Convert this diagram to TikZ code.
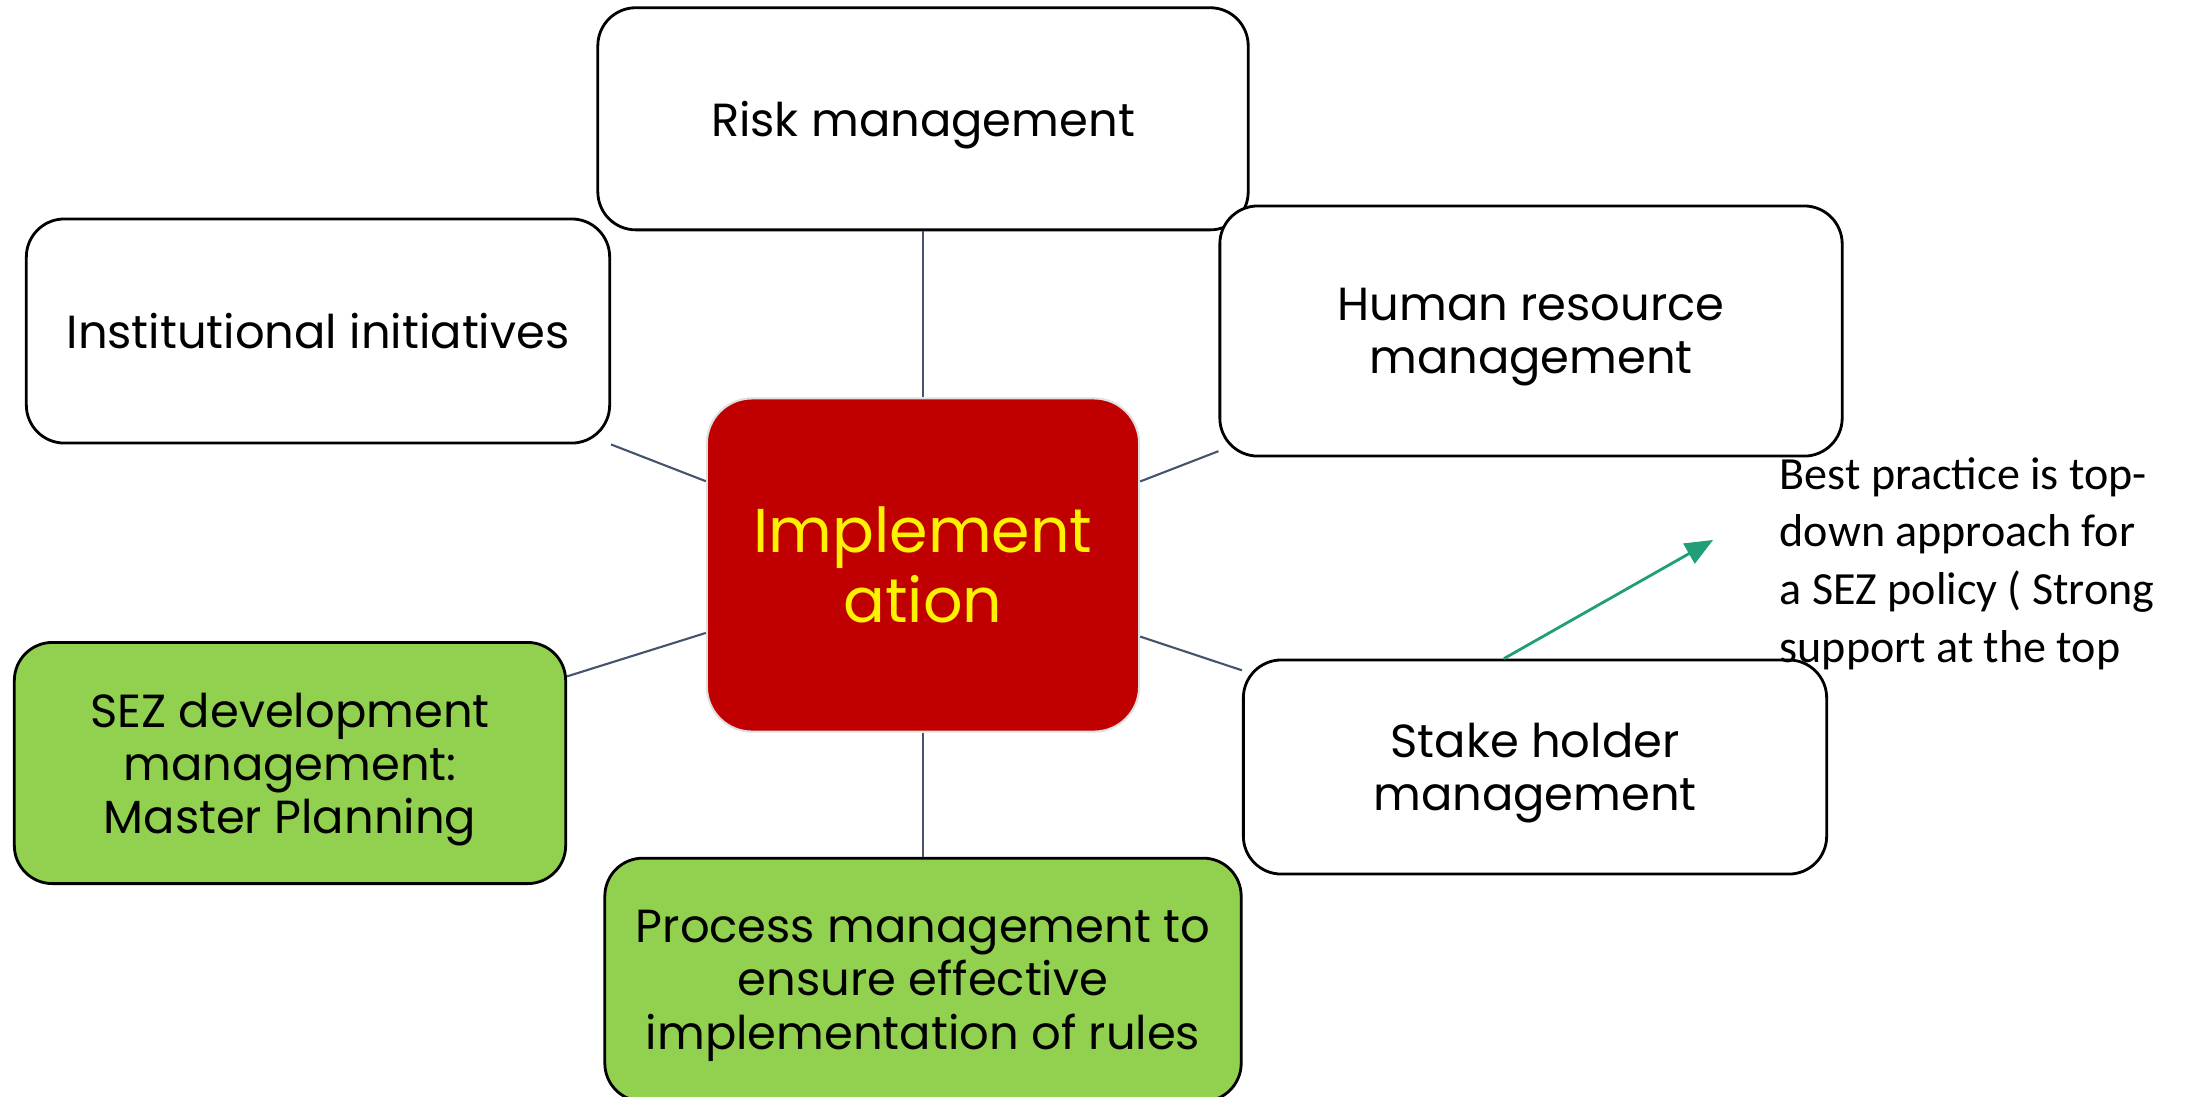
\documentclass[tikz,border=0pt]{standalone}
\usepackage{fontspec}
\setmainfont{Poppins}
\newfontfamily\notefont{Carlito}
\usetikzlibrary{positioning}
\usetikzlibrary{arrows}
\definecolor{implred}{HTML}{C00000}
\definecolor{sezgreen}{HTML}{92D050}
\definecolor{linkgray}{HTML}{44546A}
\definecolor{hintgreen}{HTML}{1F9E78}
\tikzset{x=0.01cm, y=-0.01cm, % One unit is one pixel of the slide, y runs down
      topic/.style={ % Sets the properties for each outer box
      draw, thick,
      rounded corners=0.38cm,
      fill=white,
      inner sep=0pt,
      text depth=0pt, % Centre the lines without their descenders
      align=center,
      font=\fontsize{13.2pt}{15.1pt}\selectfont},
      keytopic/.style={topic, fill=sezgreen}, % Green boxes
      core/.style={ % The box in the middle
      draw=gray!25, semithick,
      rounded corners=0.45cm,
      fill=implred, text=yellow,
      inner sep=0pt,
      align=center,
      font=\fontsize{17.6pt}{19.9pt}\selectfont},
      link/.style={draw=linkgray, semithick}, % Plain connectors
      hint/.style={ % Arrow pointing at the note
      draw=hintgreen, thick,
      ->,>=triangle 45}}

\begin{document}
\begin{tikzpicture}
      \useasboundingbox (0,0) rectangle (2195,1096);
      \node[core, minimum width=4.32cm, minimum height=3.33cm] (impl) at (923,565) {Implement\\ation};
      \node[topic, minimum width=6.5cm, minimum height=2.22cm, above=1.66cm of impl] (risk) {Risk management};
      \node[topic, minimum width=5.83cm, minimum height=2.24cm] (inst) at (318,331) {Institutional initiatives};
      \node[topic, minimum width=6.22cm, minimum height=2.5cm] (hrm) at (1531,331) {Human resource\\management};
      \node[keytopic, minimum width=5.51cm, minimum height=2.41cm] (sez) at (290,763) {SEZ development\\management:\\Master Planning};
      \node[topic, minimum width=5.83cm, minimum height=2.14cm] (stake) at (1535,767) {Stake holder\\management};
      \node[keytopic, minimum width=6.36cm, minimum height=2.43cm, below=1.24cm of impl] (proc) {Process management to\\ensure effective\\implementation of rules};
      \node[anchor=base west, align=left, inner sep=0pt, font=\notefont\fontsize{13.1pt}{16.4pt}\selectfont] (note) at (1779,662) {Best practice is top-\\down approach for\\a SEZ policy ( Strong\\support at the top};
      \coordinate (notetip) at (1713,540);
      \draw[link] (risk) -- (impl);
      \draw[link] (inst) -- (impl);
      \draw[link] (hrm) -- (impl);
      \draw[link] (sez) -- (impl);
      \draw[link] (stake) -- (impl);
      \draw[link] (proc) -- (impl);
      \draw[hint] ([xshift=-0.31cm]stake.north) -- (notetip);
\end{tikzpicture}
\end{document}
